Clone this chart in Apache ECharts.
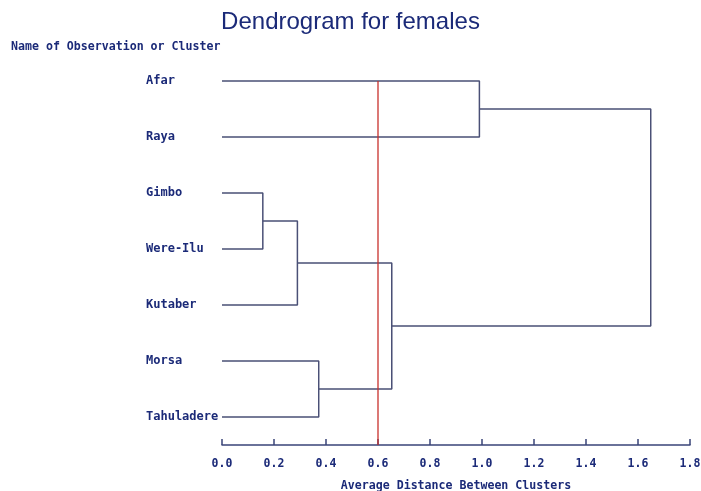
<!DOCTYPE html>
<html>
<head>
<meta charset="utf-8">
<script src="https://cdn.jsdelivr.net/npm/echarts@6/dist/echarts.min.js"></script>
<style>html,body{margin:0;padding:0;background:#fff}#c{width:701px;height:491px}</style>
</head>
<body>
<div id="c"></div>
<script>
// Leaves (top to bottom)
var leaves = ['Afar', 'Raya', 'Gimbo', 'Were-Ilu', 'Kutaber', 'Morsa', 'Tahuladere'];
// Merges: [left node, right node, height]; node ids: leaves 0..6, clusters 7..
var mergeLeft = [2, 7, 5, 8, 0, 11];
var mergeRight = [3, 4, 6, 9, 1, 10];
var mergeHeight = [0.157, 0.29, 0.372, 0.653, 0.99, 1.649];
// Cut line
var cutHeight = 0.6;
// X-axis ticks
var xTicks = [0.0, 0.2, 0.4, 0.6, 0.8, 1.0, 1.2, 1.4, 1.6, 1.8];

var navy = '#1b2a78';
var lineCol = '#4a5076';
var mono = '"DejaVu Sans Mono", monospace';

// node positions
var nodeY = leaves.map(function (_, i) { return i; });
var nodeH = leaves.map(function () { return 0; });
var series = [];
for (var k = 0; k < mergeHeight.length; k++) {
  var a = mergeLeft[k], b = mergeRight[k], h = mergeHeight[k];
  series.push({
    type: 'line', yAxisIndex: 1, symbol: 'none', silent: true,
    lineStyle: { color: lineCol, width: 1.5 },
    data: [[nodeH[a], nodeY[a]], [h, nodeY[a]], [h, nodeY[b]], [nodeH[b], nodeY[b]]]
  });
  nodeY.push((nodeY[a] + nodeY[b]) / 2);
  nodeH.push(h);
}
series.push({
  type: 'line', yAxisIndex: 1, symbol: 'none', silent: true, z: 5,
  lineStyle: { color: '#c8302c', width: 1.3 },
  data: [[cutHeight, 0], [cutHeight, leaves.length - 0.5]]
});

var chart = echarts.init(document.getElementById('c'), null, { renderer: 'canvas' });
chart.setOption({
  animation: false,
  backgroundColor: '#fff',
  title: [
    { text: 'Dendrogram for females', left: 'center', top: 5,
      textStyle: { fontFamily: '"Liberation Sans", Arial, sans-serif', fontWeight: 'normal', fontSize: 24, color: navy } },
    { text: 'Name of Observation or Cluster', left: 6, top: 36,
      textStyle: { fontFamily: mono, fontWeight: 'bold', fontSize: 11.6, color: navy } }
  ],
  grid: { left: 222, right: 11, top: 53, bottom: 46, containLabel: false, outerBoundsMode: 'none' },
  xAxis: {
    type: 'value', min: xTicks[0], max: xTicks[xTicks.length - 1], interval: 0.2,
    name: 'Average Distance Between Clusters', nameLocation: 'middle', nameGap: 35,
    nameTextStyle: { fontFamily: mono, fontWeight: 'bold', fontSize: 11.6, color: navy },
    axisLine: { show: true, onZero: false, lineStyle: { color: '#3a4478', width: 1.5 } },
    axisTick: { show: true, inside: true, length: 6, lineStyle: { color: '#3a4478', width: 1.5 } },
    axisLabel: { margin: 13, fontFamily: mono, fontWeight: 'bold', fontSize: 11.5, color: navy,
      formatter: function (v) { return v.toFixed(1); } },
    splitLine: { show: false }
  },
  yAxis: [
    { type: 'category', data: leaves, inverse: true,
      axisLine: { show: false }, axisTick: { show: false }, splitLine: { show: false },
      axisLabel: { align: 'left', margin: 76, fontFamily: mono, fontWeight: 'bold', fontSize: 12, color: navy } },
    { type: 'value', min: -0.5, max: leaves.length - 0.5, inverse: true, show: false }
  ],
  series: series
});
</script>
</body>
</html>
